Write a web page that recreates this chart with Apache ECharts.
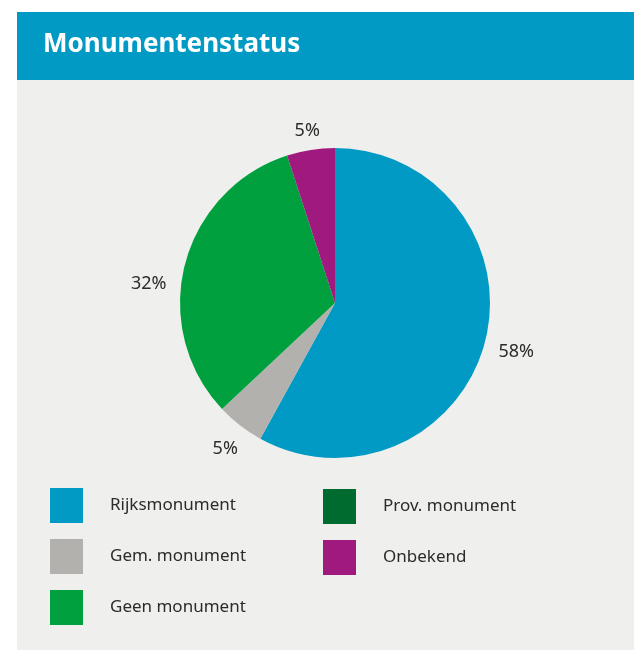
<!DOCTYPE html>
<html>
<head>
<meta charset="utf-8">
<script src="https://cdn.jsdelivr.net/npm/echarts@6/dist/echarts.min.js"></script>
<style>
html,body{margin:0;padding:0;background:#ffffff;}
#c{width:634px;height:650px;}
</style>
</head>
<body>
<div id="c"></div>
<script>
// ---- data ----
const chartTitle = 'Monumentenstatus';
const categories = ['Rijksmonument', 'Gem. monument', 'Geen monument', 'Prov. monument', 'Onbekend'];
const values = [58, 5, 32, 0, 5];
const colors = ['#009AC4', '#B2B1AD', '#00A03E', '#006B2F', '#A0197E'];
const legendCol1 = ['Rijksmonument', 'Gem. monument', 'Geen monument'];
const legendCol2 = ['Prov. monument', 'Onbekend'];

// ---- presentation ----
const FONT = '"Noto Sans", "Liberation Sans", sans-serif';
const labelNudge = { 'Rijksmonument': [3, 3], 'Geen monument': [-8, 27], 'Onbekend': [1, 10], 'Gem. monument': [3, 0] };

const pieData = categories.map((n, i) => ({ name: n, value: values[i], itemStyle: { color: colors[i] } }));
const labelData = categories.map((n, i) => ({
  name: n, value: values[i],
  label: labelNudge[n] ? { offset: labelNudge[n] } : {}
}));

const chart = echarts.init(document.getElementById('c'), null, { renderer: 'canvas' });
const legendBase = {
  orient: 'vertical',
  icon: 'rect',
  itemWidth: 33,
  itemHeight: 35,
  itemGap: 16,
  selectedMode: false,
  padding: 0,
  textStyle: { fontFamily: FONT, fontSize: 17, color: '#2b2b2b', padding: [0, 0, 0, 22] }
};
chart.setOption({
  backgroundColor: '#ffffff',
  animation: false,
  color: colors,
  graphic: [
    { type: 'rect', shape: { x: 17, y: 12, width: 617, height: 68 }, style: { fill: '#009AC4' }, z: -1, silent: true },
    { type: 'rect', shape: { x: 17, y: 80, width: 617, height: 570 }, style: { fill: '#EFEFED' }, z: -1, silent: true }
  ],
  title: {
    text: chartTitle,
    left: 43,
    top: 32,
    padding: 0,
    textStyle: { fontFamily: FONT, fontWeight: 'bold', fontSize: 26, color: '#ffffff' }
  },
  legend: [
    Object.assign({}, legendBase, { data: legendCol1, left: 50, top: 488 }),
    Object.assign({}, legendBase, { data: legendCol2, left: 323, top: 489 })
  ],
  series: [
    {
      type: 'pie',
      center: [335, 303],
      radius: [0, 155],
      startAngle: 90,
      clockwise: true,
      label: { show: false },
      labelLine: { show: false },
      emphasis: { disabled: true },
      data: pieData
    },
    {
      type: 'pie',
      center: [335, 303],
      radius: [160, 202],
      startAngle: 90,
      clockwise: true,
      silent: true,
      legendHoverLink: false,
      itemStyle: { color: 'rgba(0,0,0,0)' },
      emphasis: { disabled: true },
      labelLine: { show: false },
      label: {
        show: true,
        position: 'inside',
        fontFamily: FONT,
        fontSize: 18,
        color: '#2b2b2b',
        formatter: p => (p.value === 0 ? '' : p.value + '%')
      },
      data: labelData
    }
  ]
});
</script>
</body>
</html>
